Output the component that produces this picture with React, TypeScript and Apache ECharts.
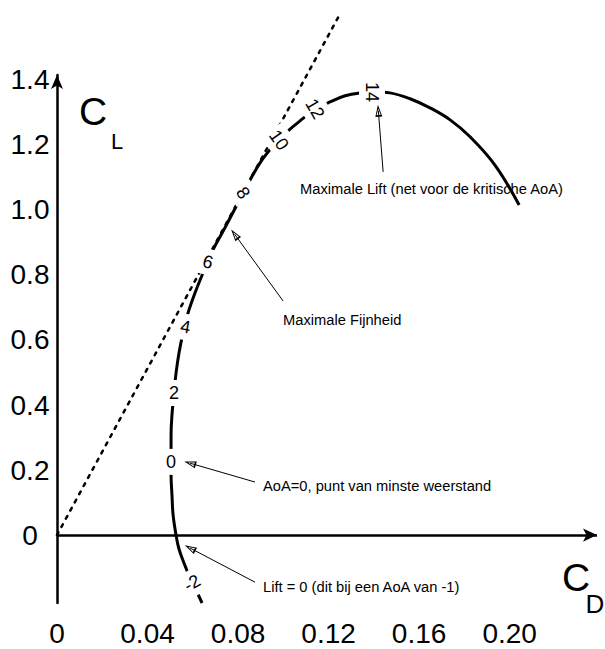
import React, { useEffect, useRef } from "react";
import * as echarts from "echarts";

// Drag polar (CD, CL)
const polarCd = [0.0641, 0.0614, 0.0588, 0.0561, 0.0539, 0.0526, 0.0513, 0.0508, 0.0504, 0.0504, 0.0504, 0.0508, 0.0517, 0.0526, 0.0539, 0.0557, 0.0579, 0.061, 0.0645, 0.0689, 0.0742, 0.08, 0.0853, 0.0906, 0.0959, 0.1016, 0.1074, 0.114, 0.1206, 0.1273, 0.1339, 0.1405, 0.1471, 0.156, 0.1648, 0.1737, 0.1825, 0.1935, 0.2042];
const polarCl = [-0.209, -0.169, -0.132, -0.086, -0.043, 0.0, 0.062, 0.123, 0.185, 0.246, 0.308, 0.369, 0.437, 0.498, 0.56, 0.622, 0.683, 0.745, 0.806, 0.877, 0.945, 1.022, 1.092, 1.154, 1.2, 1.24, 1.274, 1.308, 1.332, 1.351, 1.36, 1.363, 1.36, 1.342, 1.314, 1.277, 1.225, 1.138, 1.015];

// Angle-of-attack marks along the polar
const aoaLabels = ["-2", "0", "2", "4", "6", "8", "10", "12", "14"];
const aoaCd = [0.0597, 0.0504, 0.0517, 0.0568, 0.0667, 0.0822, 0.0981, 0.114, 0.1392];
const aoaCl = [-0.148, 0.225, 0.437, 0.64, 0.84, 1.052, 1.215, 1.311, 1.363];
const aoaLabelRotation = [30, 0, 0, -10, -15, -55, -55, -60, -90];

// Tangent from origin (max lift/drag)
const tangentCd = [0, 0.1246];
const tangentCl = [0, 1.597];

// Tick labels
const xTickValues = [0, 0.04, 0.08, 0.12, 0.16, 0.2];
const xTickLabels = ["0", "0.04", "0.08", "0.12", "0.16", "0.20"];
const yTickValues = [0, 0.2, 0.4, 0.6, 0.8, 1.0, 1.2, 1.4];
const yTickLabels = ["0", "0.2", "0.4", "0.6", "0.8", "1.0", "1.2", "1.4"];

// Annotations: text and arrow (from -> to) in data units
const annotationTexts = [
  "Maximale Lift (net voor de kritische AoA)",
  "Maximale Fijnheid",
  "AoA=0, punt van minste weerstand",
  "Lift = 0 (dit bij een AoA van -1)",
];
const arrowFrom = [
  [0.1441, 1.117],
  [0.0999, 0.72],
  [0.0875, 0.163],
  [0.0875, -0.145],
];
const arrowTo = [
  [0.142, 1.305],
  [0.0785, 0.925],
  [0.0588, 0.221],
  [0.0588, -0.04],
];
const annotationPos = [
  [300, 189],
  [283, 320],
  [263, 486],
  [263, 587],
];

const FONT = "'Liberation Sans', Arial, Helvetica, sans-serif";
const HOLLOW_ARROW = "path://M5 0L10 14L0 14Z M5 4.5L2 12L8 12Z";

function lookup(values: number[], labels: string[], v: number): string {
  const i = values.findIndex((t) => Math.abs(t - v) < 1e-9);
  return i >= 0 ? labels[i] : "";
}

export default function App() {
  const ref = useRef<HTMLDivElement>(null);

  useEffect(() => {
    if (!ref.current) return;
    const chart = echarts.init(ref.current, undefined, { renderer: "svg" });

    const staticGraphic: any[] = [
      {
        type: "text",
        x: 93,
        y: 111,
        style: { text: "C", fontSize: 39, fontFamily: FONT, fill: "#000", align: "center", verticalAlign: "middle" },
      },
      {
        type: "text",
        x: 117,
        y: 141,
        style: { text: "L", fontSize: 22, fontFamily: FONT, fill: "#000", align: "center", verticalAlign: "middle" },
      },
      {
        type: "text",
        x: 576,
        y: 577,
        style: { text: "C", fontSize: 39, fontFamily: FONT, fill: "#000", align: "center", verticalAlign: "middle" },
      },
      {
        type: "text",
        x: 595,
        y: 604,
        style: { text: "D", fontSize: 26, fontFamily: FONT, fill: "#000", align: "center", verticalAlign: "middle" },
      },
      ...annotationTexts.map((t, i) => ({
        type: "text",
        x: annotationPos[i][0],
        y: annotationPos[i][1],
        style: { text: t, fontSize: 14.7, fontFamily: FONT, fill: "#000", align: "left", verticalAlign: "middle" },
      })),
    ];

    const option: any = {
      animation: false,
      backgroundColor: "#fff",
      grid: { left: 57, right: 8, top: 75, bottom: 46, outerBoundsMode: "none" },
      xAxis: {
        type: "value",
        min: 0,
        max: 0.2386,
        position: "bottom",
        axisLine: { show: false, onZero: false },
        axisTick: { show: false },
        splitLine: { show: false },
        axisLabel: {
          customValues: xTickValues,
          formatter: (v: number) => lookup(xTickValues, xTickLabels, v),
          fontSize: 28,
          color: "#000",
          fontFamily: FONT,
          margin: 16,
        },
      },
      yAxis: {
        type: "value",
        min: -0.209,
        max: 1.415,
        position: "left",
        axisLine: {
          show: true,
          onZero: false,
          symbol: ["none", "arrow"],
          symbolSize: [9, 14],
          lineStyle: { color: "#000", width: 2.5 },
        },
        axisTick: { show: false },
        splitLine: { show: false },
        axisLabel: {
          customValues: yTickValues,
          formatter: (v: number) => lookup(yTickValues, yTickLabels, v),
          fontSize: 28,
          color: "#000",
          fontFamily: FONT,
          align: "center",
          margin: 27,
        },
      },
      series: [
        {
          type: "line",
          name: "tangent",
          data: tangentCd.map((x, i) => [x, tangentCl[i]]),
          showSymbol: false,
          symbol: "none",
          clip: false,
          silent: true,
          z: 1,
          lineStyle: { color: "#000", width: 2.5, type: [3, 6.3], cap: "round" },
          markLine: {
            silent: true,
            symbol: ["none", "arrow"],
            symbolSize: [10, 14],
            label: { show: false },
            lineStyle: { color: "#000", width: 2.5, type: "solid" },
            data: [{ yAxis: 0 }],
          },
        },
        {
          type: "line",
          name: "polar",
          data: polarCd.map((x, i) => [x, polarCl[i]]),
          smooth: 0.4,
          showSymbol: false,
          symbol: "none",
          clip: false,
          silent: true,
          z: 2,
          lineStyle: { color: "#000", width: 3 },
          markLine: {
            silent: true,
            symbol: ["none", HOLLOW_ARROW],
            symbolSize: [7, 12],
            label: { show: false },
            lineStyle: { color: "#000", width: 1, type: "solid" },
            data: arrowFrom.map((f, i) => [{ coord: f }, { coord: arrowTo[i] }]),
          },
        },
      ],
      graphic: staticGraphic,
    };

    chart.setOption(option);

    // AoA labels placed on the curve via the chart's own scales
    const aoaGraphic = aoaLabels.map((t, i) => {
      const p = chart.convertToPixel({ xAxisIndex: 0, yAxisIndex: 0 }, [aoaCd[i], aoaCl[i]]) as number[];
      return {
        type: "text",
        x: p[0],
        y: p[1],
        rotation: (aoaLabelRotation[i] * Math.PI) / 180,
        z: 100,
        style: {
          text: t,
          fontSize: 18,
          fontFamily: FONT,
          fill: "#000",
          align: "center",
          verticalAlign: "middle",
          backgroundColor: "#fff",
          padding: [4, 3],
        },
      };
    });
    chart.setOption({ graphic: [...staticGraphic, ...aoaGraphic] }, { replaceMerge: ["graphic"] });

    return () => chart.dispose();
  }, []);

  return (
    <div
      ref={ref}
      style={{ position: "absolute", left: 0, top: 0, width: 605, height: 649 }}
    />
  );
}
